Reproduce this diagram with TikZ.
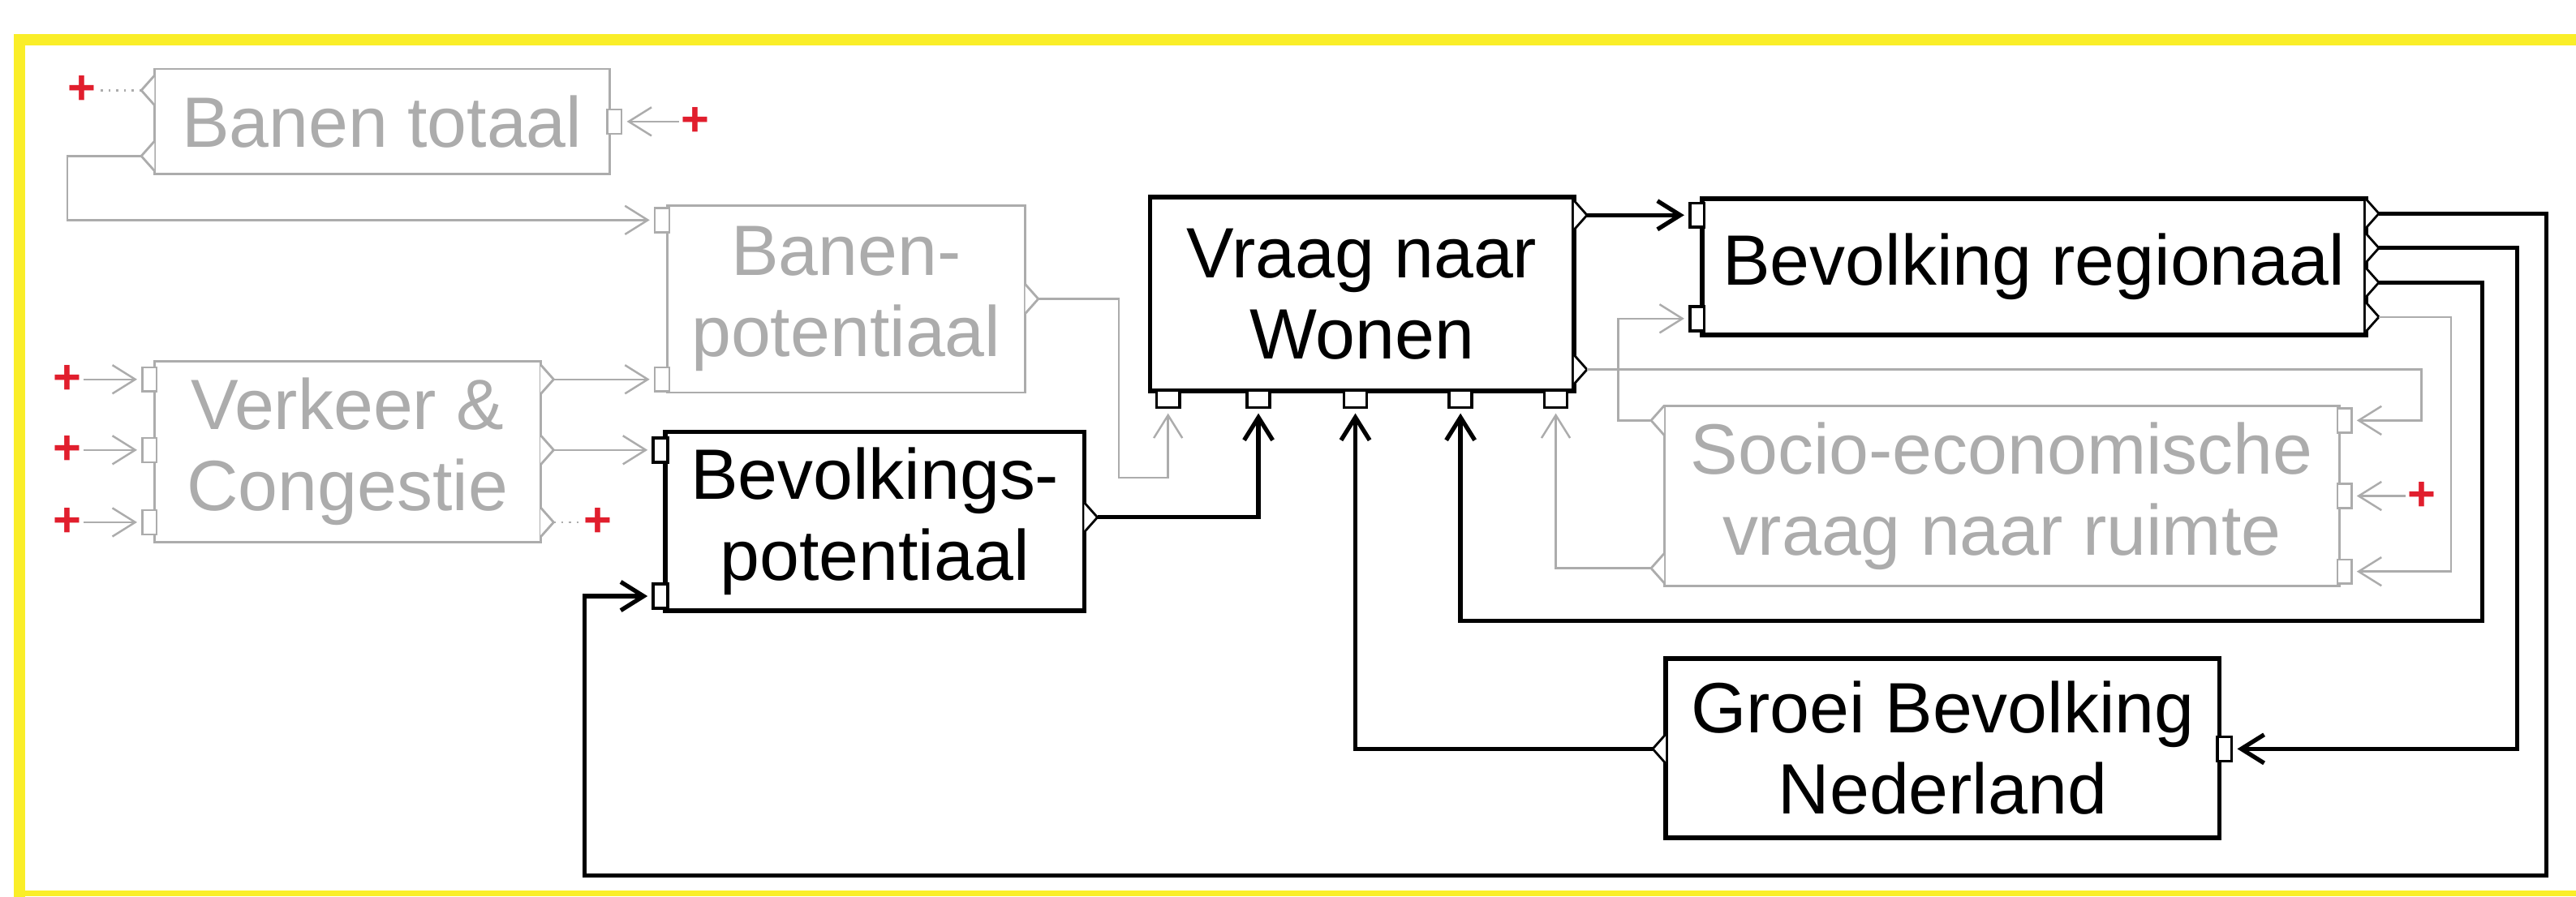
\documentclass[tikz,border=0pt]{standalone}
\usepackage{fontspec}
\setmainfont{Liberation Sans}
\usetikzlibrary{arrows.meta,positioning}
\definecolor{geel}{RGB}{250,238,40}
\definecolor{lichtgrijs}{RGB}{172,172,172}
\definecolor{plusrood}{RGB}{225,30,45}

% uitgangen (driehoekjes) op de rand van een blok
\newcommand{\uitr}[4]{\draw[#4,fill=white,line width=0.8pt] (#2,#3-9) -- ++(8,9) -- ++(-8,9);
  \coordinate (#1) at (#2+8,#3);}
\newcommand{\uitl}[4]{\draw[#4,fill=white,line width=0.8pt] (#2,#3-9) -- ++(-8,9) -- ++(8,9);
  \coordinate (#1) at (#2-8,#3);}

\begin{document}
\begin{tikzpicture}[
    x=0.2025mm, y=-0.2025mm,
    maat/.style 2 args={minimum width=#1*0.2025mm, minimum height=#2*0.2025mm},
    blok/.style={rectangle, draw=black, line width=1.6pt, inner sep=0pt, align=center, font=\fontsize{25}{28.5}\selectfont},
    grijsblok/.style={blok, draw=lichtgrijs, line width=0.8pt, text=lichtgrijs},
    inzij/.style={rectangle, draw=black, fill=white, line width=1pt, minimum width=5pt, minimum height=8.5pt, inner sep=0pt},
    inonder/.style={inzij, minimum width=8pt, minimum height=6pt},
    grijs/.style={draw=lichtgrijs, line width=0.7pt},
    rodeplus/.style={text=plusrood, font=\bfseries\fontsize{17}{17}\selectfont, inner sep=0.5pt},
    verbinding/.style={line width=1.5pt, black},
    lijn/.style={lichtgrijs, line width=0.7pt},
    pijl/.style={-{Straight Barb[length=8pt,width=10pt]}, shorten >=1.5pt}
]
\fill[white] (0,0) rectangle (1568,546);
\useasboundingbox (0,0) rectangle (1568,546);

% gele rand
\draw[geel, line width=4pt] (1568,24) -- (12,24) -- (12,546);
\draw[geel, line width=2pt] (12,544) -- (1568,544);

% blokken
\node[grijsblok, maat={277}{64}] (bt) at (232.5,74) {Banen totaal};
\node[grijsblok, maat={218}{114}] (bp) at (515,182) {Banen-\\potentiaal};
\node[blok, maat={258}{118}] (vw) at (829,179) {Vraag naar\\Wonen};
\node[blok, maat={404}{83}] (br) at (1238,162.5) {Bevolking regionaal};
\node[grijsblok, maat={235}{110}] (vc) at (211.5,275) {Verkeer \&\\Congestie};
\node[blok, maat={255}{109}] (bk) at (532.5,317.5) {Bevolkings-\\potentiaal};
\node[grijsblok, maat={411}{110}] (se) at (1218.5,302) {Socio-economische\\vraag naar ruimte};
\node[blok, maat={337}{109}] (gb) at (1182.5,455.5) {Groei Bevolking\\Nederland};

% in- en uitgangen
\uitl{bt-o1}{94}{55}{lichtgrijs}
\uitl{bt-o2}{94}{95}{lichtgrijs}
\node[inzij, grijs] (bt-i1) at (374,74) {};
\node[rodeplus] (bt-p1) at (50,55) {+};
\node[rodeplus] (bt-p2) at (423,74) {+};

\node[inzij, grijs] (bp-i1) at (403,134) {};
\node[inzij, grijs] (bp-i2) at (403,231) {};
\uitr{bp-o1}{624}{182}{lichtgrijs}

\foreach \x [count=\i] in {711,766,825,889,947}
  \node[inonder] (vw-i\i) at (\x,243) {};
\uitr{vw-o1}{958}{131}{black}
\uitr{vw-o2}{958}{225}{black}

\node[inzij] (br-i1) at (1033,131) {};
\node[inzij] (br-i2) at (1033,194) {};
\foreach \y [count=\i] in {130,151,172,193} {
  \uitr{br-o\i}{1440}{\y}{black}
}

\foreach \y [count=\i] in {231,274,318} {
  \node[inzij, grijs] (vc-i\i) at (91,\y) {};
  \node[rodeplus] (vc-p\i) at (41,\y) {+};
  \uitr{vc-o\i}{329}{\y}{lichtgrijs}
}
\node[rodeplus] (vc-p4) at (364,318) {+};

\node[inzij] (bk-i1) at (402,274) {};
\node[inzij] (bk-i2) at (402,363) {};
\uitr{bk-o1}{660}{315}{black}

\foreach \y [count=\i] in {256,302,348}
  \node[inzij, grijs] (se-i\i) at (1427,\y) {};
\node[rodeplus] (se-p) at (1474,302) {+};
\uitl{se-o1}{1013}{256}{lichtgrijs}
\uitl{se-o2}{1013}{346}{lichtgrijs}

\node[inzij] (gb-i1) at (1354,456) {};
\uitl{gb-o1}{1014}{456}{black}

% grijze verbindingen
\draw[lijn, dotted] (bt-o1) -- (bt-p1);
\draw[lijn, pijl] (bt-o2) -- (41,95) |- (bp-i1);
\draw[lijn, pijl] (bt-p2) -- (bt-i1);
\foreach \i in {1,2,3}
  \draw[lijn, pijl] (vc-p\i) -- (vc-i\i);
\draw[lijn, pijl] (vc-o1) -- (bp-i2);
\draw[lijn, pijl] (vc-o2) -- (bk-i1);
\draw[lijn, dotted] (vc-o3) -- (vc-p4);
\draw[lijn, pijl] (bp-o1) -| (681,291) -| (vw-i1);
\draw[lijn, pijl] (vw-o2) -| (1474,256) -- (se-i1);
\draw[lijn, pijl] (se-p) -- (se-i2);
\draw[lijn, pijl] (br-o4) -| (1492,348) -- (se-i3);
\draw[lijn, pijl] (se-o1) -| (985,194) -- (br-i2);
\draw[lijn, pijl] (se-o2) -| (vw-i5);

% zwarte verbindingen
\draw[verbinding, pijl] (vw-o1) -- (br-i1);
\draw[verbinding, pijl] (bk-o1) -| (vw-i2);
\draw[verbinding, pijl] (gb-o1) -| (vw-i3);
\draw[verbinding, pijl] (br-o3) -| (1511,378) -| (vw-i4);
\draw[verbinding, pijl] (br-o2) -| (1532,456) -- (gb-i1);
\draw[verbinding, pijl] (br-o1) -| (1550,533) -| (356,363) -- (bk-i2);
\end{tikzpicture}
\end{document}
